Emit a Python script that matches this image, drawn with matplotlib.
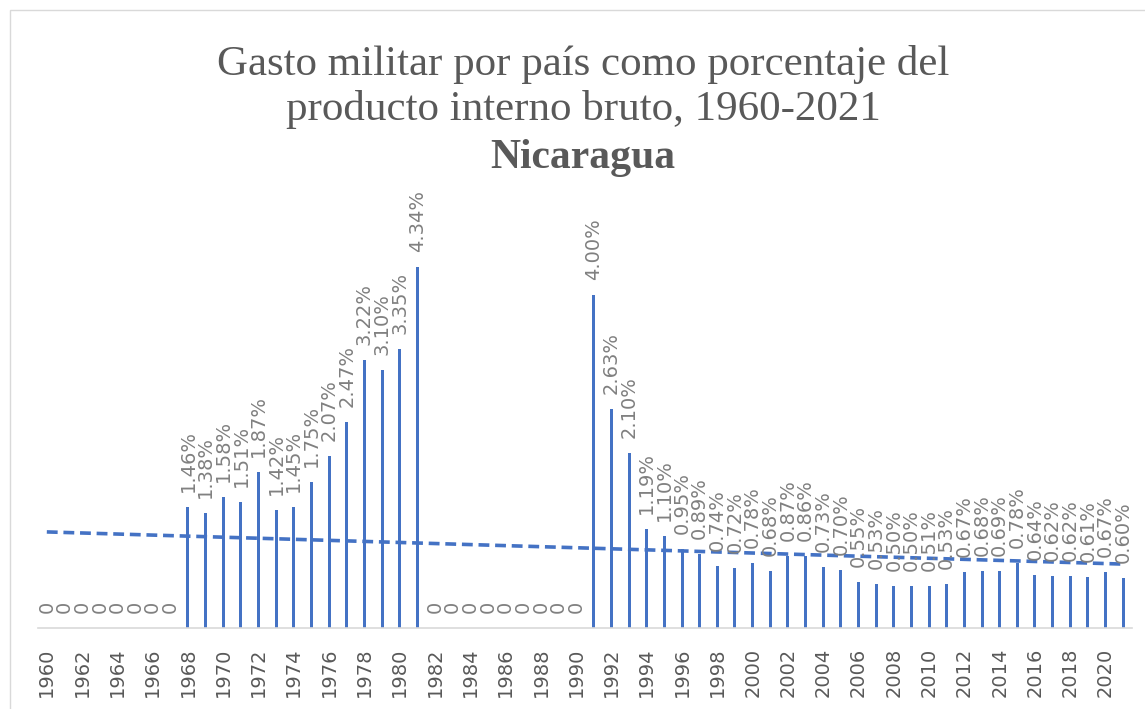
import numpy as np
import matplotlib
matplotlib.use('Agg')
import matplotlib.pyplot as plt
from matplotlib.patches import Rectangle

years = list(range(1960, 2022))
gasto = [0, 0, 0, 0, 0, 0, 0, 0,
         1.46, 1.38, 1.58, 1.51, 1.87, 1.42, 1.45, 1.75, 2.07, 2.47, 3.22, 3.10, 3.35, 4.34,
         0, 0, 0, 0, 0, 0, 0, 0, 0,
         4.00, 2.63, 2.10, 1.19, 1.10, 0.95, 0.89, 0.74, 0.72, 0.78, 0.68, 0.87, 0.86,
         0.73, 0.70, 0.55, 0.53, 0.50, 0.50, 0.51, 0.53, 0.67, 0.68, 0.69, 0.78, 0.64,
         0.62, 0.62, 0.61, 0.67, 0.60]
titulo = "Gasto militar por país como porcentaje del\nproducto interno bruto, 1960-2021"
pais = "Nicaragua"

azul = '#4472C4'
gris = '#595959'

fig = plt.figure(figsize=(11.45, 7.09), dpi=100)
fig.patches.append(Rectangle((10 / 1145, -0.1), 1.2, (709 - 10) / 709 + 0.1,
                             transform=fig.transFigure, fill=False,
                             edgecolor='#d9d9d9', linewidth=1))
ax = fig.add_axes([38 / 1145, 81 / 709, 1094 / 1145, 416 / 709])

x = np.arange(len(years))
ax.bar(x, gasto, width=0.17, color=azul, zorder=2)

# linea de tendencia lineal (como en Excel)
coef = np.polyfit(x, gasto, 1)
ax.plot(x, np.polyval(coef, x), linestyle=(0, (3, 1.6)), color=azul,
        linewidth=2.6, zorder=3)

for i, v in enumerate(gasto):
    etiqueta = "0" if v == 0 else f"{v:.2f}%"
    ax.annotate(etiqueta, (i, v), xytext=(0, 15), textcoords='offset pixels',
                ha='center', va='bottom', rotation=90, fontsize=14,
                color='#808080', family='DejaVu Sans')

ax.set_xlim(-0.5, len(years) - 0.5)
ax.set_ylim(0, 5)
ax.set_xticks(x[::2])
ax.set_xticklabels([str(a) for a in years[::2]], rotation=90, fontsize=14,
                   color=gris, family='DejaVu Sans')
ax.tick_params(axis='x', length=0, pad=14)
ax.set_yticks([])
for s in ['top', 'right', 'left']:
    ax.spines[s].set_visible(False)
ax.spines['bottom'].set_color('#d9d9d9')
ax.spines['bottom'].set_linewidth(1.2)

fig.text(583 / 1145, 1 - 87 / 709, titulo, ha='center', va='center',
         fontsize=31, color=gris, family='Liberation Serif', linespacing=1.2)
fig.text(583 / 1145, 1 - 158 / 709, pais, ha='center', va='center',
         fontsize=30, color=gris, family='Liberation Serif', weight='bold')

fig.savefig('out.png', dpi=100)
